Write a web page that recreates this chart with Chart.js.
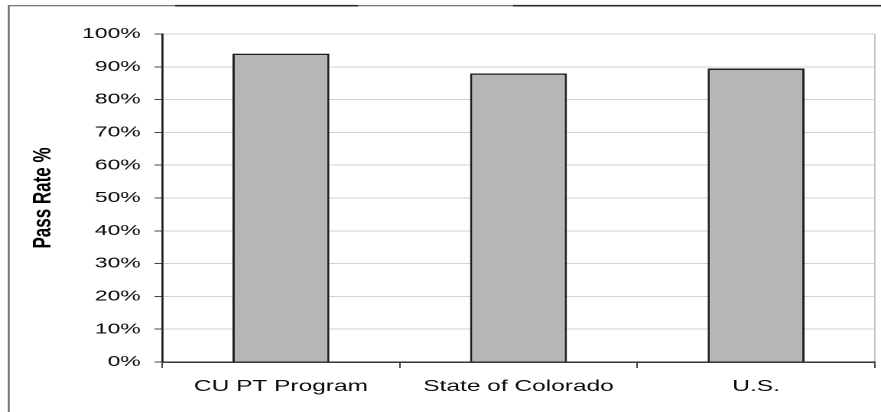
<!DOCTYPE html>
<html>
<head>
<meta charset="utf-8">
<title>Pass Rate</title>
<script src="https://cdn.jsdelivr.net/npm/chart.js@4/dist/chart.umd.min.js"></script>
<style>
  html, body { margin: 0; padding: 0; background: #fff; overflow: hidden; }
  /* the reference is a horizontally stretched scan, so draw narrow and stretch */
  #wrap { width: 576px; height: 412px; transform: scaleX(1.5295); transform-origin: 0 0; }
</style>
</head>
<body>
<div id="wrap"><canvas id="passChart"></canvas></div>
<script>
// data
const categories = ["CU PT Program", "State of Colorado", "U.S."];
const passRates = [94, 88, 89.5];
const yTickLabels = ["0%", "10%", "20%", "30%", "40%", "50%", "60%", "70%", "80%", "90%", "100%"];
const yTitle = "Pass Rate %";

const FONT = "'Liberation Sans', Arial, sans-serif";

// outer frame + light plot border, drawn under the scales
const framePlugin = {
  id: "frame",
  beforeDraw(chart) {
    const { ctx, chartArea: a } = chart;
    ctx.save();
    ctx.fillStyle = "#fff";
    ctx.fillRect(0, 0, chart.width, chart.height);

    ctx.lineWidth = 1.2;
    ctx.strokeStyle = "#666";
    ctx.beginPath();
    ctx.moveTo(5.7, chart.height);
    ctx.lineTo(5.7, 5.7);
    ctx.lineTo(chart.width, 5.7);
    ctx.stroke();

    ctx.strokeStyle = "#2a2a2a";
    ctx.lineWidth = 1.6;
    ctx.beginPath();
    ctx.moveTo(114.4, 5.7); ctx.lineTo(234, 5.7);
    ctx.moveTo(335.4, 5.7); ctx.lineTo(chart.width, 5.7);
    ctx.stroke();

    ctx.strokeStyle = "#c4c4c4";
    ctx.lineWidth = 1;
    ctx.strokeRect(a.left, a.top, a.right - a.left, a.bottom - a.top);
    ctx.restore();
  }
};

new Chart(document.getElementById("passChart"), {
  type: "bar",
  data: {
    labels: categories,
    datasets: [{
      label: yTitle,
      data: passRates,
      backgroundColor: "#b6b6b6",
      borderColor: "#1e1e1e",
      borderWidth: 1.5,
      barPercentage: 0.408,
      categoryPercentage: 1.0
    }]
  },
  options: {
    responsive: true,
    maintainAspectRatio: false,
    devicePixelRatio: 2,
    animation: false,
    layout: { padding: { top: 34, right: 4, bottom: 2, left: 0 } },
    plugins: { legend: { display: false }, tooltip: { enabled: false } },
    scales: {
      x: {
        ticks: { color: "#0a0a0a", font: { family: FONT, size: 16 }, padding: 9 },
        grid: { offset: true, drawOnChartArea: false, tickLength: 6, tickColor: "#444" },
        border: { color: "#222", width: 1.4 },
        afterFit(scale) { scale.height = 48; }
      },
      y: {
        min: 0,
        max: 100,
        ticks: {
          stepSize: 10,
          padding: 9,
          color: "#0a0a0a",
          font: { family: FONT, size: 15 },
          callback: (v, i) => yTickLabels[i]
        },
        grid: { color: "#d2d2d2", tickLength: 5, tickColor: "#444" },
        border: { color: "#222", width: 1.4 },
        title: {
          display: true,
          text: yTitle,
          color: "#000",
          font: { family: FONT, size: 17, weight: "bold" },
          padding: { top: 18, bottom: 0 }
        },
        afterFit(scale) { scale.width = 106; }
      }
    }
  },
  plugins: [framePlugin]
});
</script>
</body>
</html>
